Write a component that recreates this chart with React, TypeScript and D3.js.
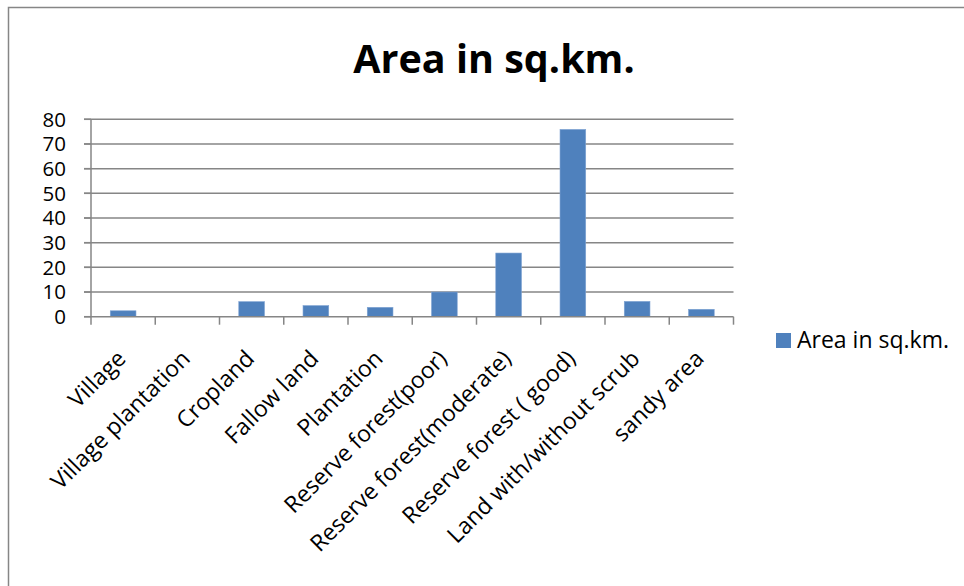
import React from "react";
import * as d3 from "d3";

const categories = [
  "Village",
  "Village plantation",
  "Cropland",
  "Fallow land",
  "Plantation",
  "Reserve forest(poor)",
  "Reserve forest(moderate)",
  "Reserve forest ( good)",
  "Land with/without scrub",
  "sandy area",
];
const values = [2.4, 0, 6.1, 4.5, 3.8, 10, 25.8, 75.9, 6.2, 3.0];
const yTicks = [0, 10, 20, 30, 40, 50, 60, 70, 80];
const seriesName = "Area in sq.km.";
const chartTitle = "Area in sq.km.";

const W = 964;
const H = 586;
const FONT = "'Open Sans', sans-serif";
const BAR = "#4F81BD";
const GRID = "#868686";

export default function App() {
  const band = d3.scaleBand<string>().domain(categories).range([91, 733.5]);
  const y = d3.scaleLinear().domain([0, 80]).range([316.7, 119.3]);

  return (
    <svg
      width={W}
      height={H}
      style={{ position: "absolute", left: 0, top: 0, background: "#fff" }}
    >
      <rect x={0} y={0} width={W} height={H} fill="#fff" />
      <rect x={8.5} y={7.5} width={W + 10} height={H + 10} fill="none" stroke={GRID} strokeWidth={1.5} />
      <text
        x={494}
        y={73}
        textAnchor="middle"
        fontFamily={FONT}
        fontWeight="bold"
        fontSize={39.5}
        fill="#000"
      >
        {chartTitle}
      </text>
      {yTicks.map((t) => (
        <g key={t}>
          {t > 0 && (
            <line x1={84} x2={733.5} y1={y(t)} y2={y(t)} stroke={GRID} strokeWidth={1.5} />
          )}
          <line x1={84} x2={91} y1={y(t)} y2={y(t)} stroke={GRID} strokeWidth={1.5} />
          <text
            x={66}
            y={y(t)}
            dy="0.36em"
            textAnchor="end"
            fontFamily={FONT}
            fontSize={20.5}
            fill="#000"
          >
            {t}
          </text>
        </g>
      ))}
      <line x1={91} x2={91} y1={y(80)} y2={y(0)} stroke={GRID} strokeWidth={1.5} />
      {values.map((v, i) => {
        const c = categories[i];
        const bw = band.bandwidth() * 0.4;
        const cx = (band(c) as number) + band.bandwidth() / 2;
        return v > 0 ? (
          <rect
            key={c}
            x={cx - bw / 2}
            y={y(v)}
            width={bw}
            height={y(0) - y(v)}
            fill={BAR}
            stroke="#7fa3d3"
            strokeWidth={0.6}
          />
        ) : null;
      })}
      <line x1={84} x2={733.5} y1={y(0)} y2={y(0)} stroke={GRID} strokeWidth={1.5} />
      {categories.concat(["__end"]).map((c, i) => {
        const px = 91 + band.step() * i;
        return <line key={"t" + i} x1={px} x2={px} y1={y(0)} y2={y(0) + 8} stroke={GRID} strokeWidth={1.5} />;
      })}
      {categories.map((c) => {
        const cx = (band(c) as number) + band.bandwidth() / 2;
        return (
          <text
            key={"l" + c}
            transform={`translate(${cx + 4},${360}) rotate(-45)`}
            textAnchor="end"
            fontFamily={FONT}
            fontSize={23}
            fill="#000"
          >
            {c}
          </text>
        );
      })}
      <rect x={776} y={333} width={15} height={15} fill={BAR} />
      <text x={797} y={347.5} fontFamily={FONT} fontSize={23} fill="#000">
        {seriesName}
      </text>
    </svg>
  );
}
